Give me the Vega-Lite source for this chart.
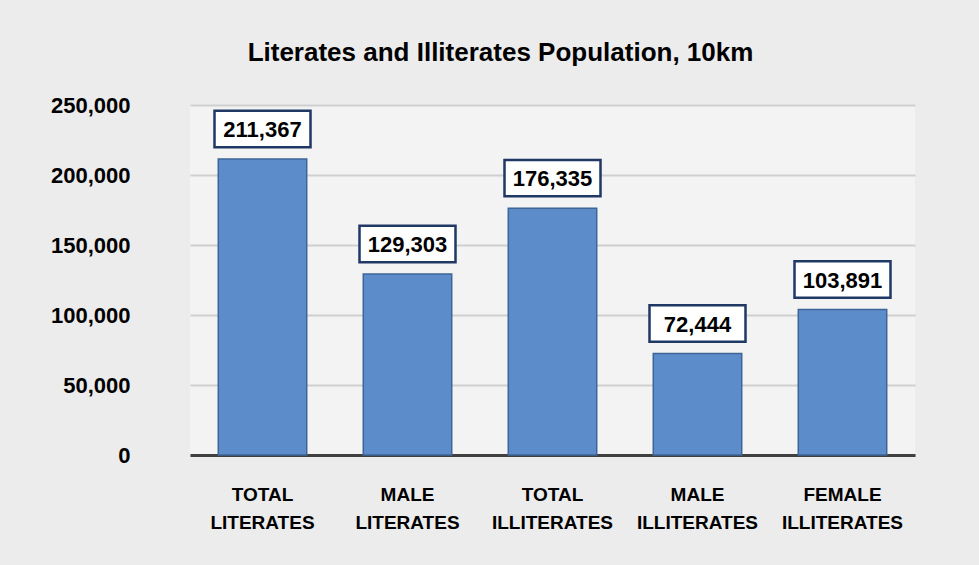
{
  "$schema": "https://vega.github.io/schema/vega-lite/v6.json",
  "width": 725,
  "height": 350,
  "autosize": {"type": "none"},
  "padding": {"left": 190, "right": 64, "top": 105, "bottom": 110},
  "background": "#ececec",
  "title": {
    "text": "Literates and Illiterates Population, 10km",
    "font": "Liberation Sans, sans-serif",
    "fontSize": 26,
    "fontWeight": "bold",
    "color": "#000000",
    "anchor": "middle",
    "dx": -52,
    "offset": 28
  },
  "config": {
    "view": {"stroke": null, "fill": "#f3f3f3"},
    "font": "Liberation Sans, sans-serif"
  },
  "data": {
    "values": [
      {"category": "TOTAL LITERATES", "value": 211367},
      {"category": "MALE LITERATES", "value": 129303},
      {"category": "TOTAL ILLITERATES", "value": 176335},
      {"category": "MALE ILLITERATES", "value": 72444},
      {"category": "FEMALE ILLITERATES", "value": 103891}
    ]
  },
  "encoding": {
    "x": {
      "field": "category",
      "type": "nominal",
      "sort": null,
      "scale": {"paddingInner": 0.39, "paddingOuter": 0.195},
      "axis": {
        "title": null,
        "labelAngle": 0,
        "labelExpr": "split(datum.label, ' ')",
        "labelFont": "Liberation Sans, sans-serif",
        "labelFontSize": 19,
        "labelFontWeight": "bold",
        "labelColor": "#000000",
        "labelLineHeight": 28,
        "labelPadding": 30,
        "ticks": false,
        "domainColor": "#404040",
        "domainWidth": 3
      }
    },
    "y": {
      "field": "value",
      "type": "quantitative",
      "scale": {"domain": [0, 250000], "nice": false},
      "axis": {
        "title": null,
        "values": [0, 50000, 100000, 150000, 200000, 250000],
        "format": ",d",
        "labelFont": "Liberation Sans, sans-serif",
        "labelFontSize": 22,
        "labelFontWeight": "bold",
        "labelColor": "#000000",
        "labelPadding": 60,
        "ticks": false,
        "domain": false,
        "gridColor": "#cfcfcf",
        "gridWidth": 2
      }
    }
  },
  "layer": [
    {
      "mark": {"type": "bar", "color": "#5d8ccb", "stroke": "#3d6596", "strokeWidth": 1.5}
    },
    {
      "mark": {
        "type": "point",
        "shape": "M-1,-0.38H1V0.38H-1Z",
        "size": 9216,
        "filled": true,
        "fill": "#ffffff",
        "fillOpacity": 1,
        "stroke": "#1f3864",
        "strokeWidth": 2.5,
        "opacity": 1,
        "yOffset": -30
      }
    },
    {
      "mark": {
        "type": "text",
        "font": "Liberation Sans, sans-serif",
        "fontSize": 22,
        "fontWeight": "bold",
        "color": "#000000",
        "baseline": "middle",
        "yOffset": -29
      },
      "encoding": {
        "text": {"field": "value", "type": "quantitative", "format": ",d"}
      }
    }
  ]
}
